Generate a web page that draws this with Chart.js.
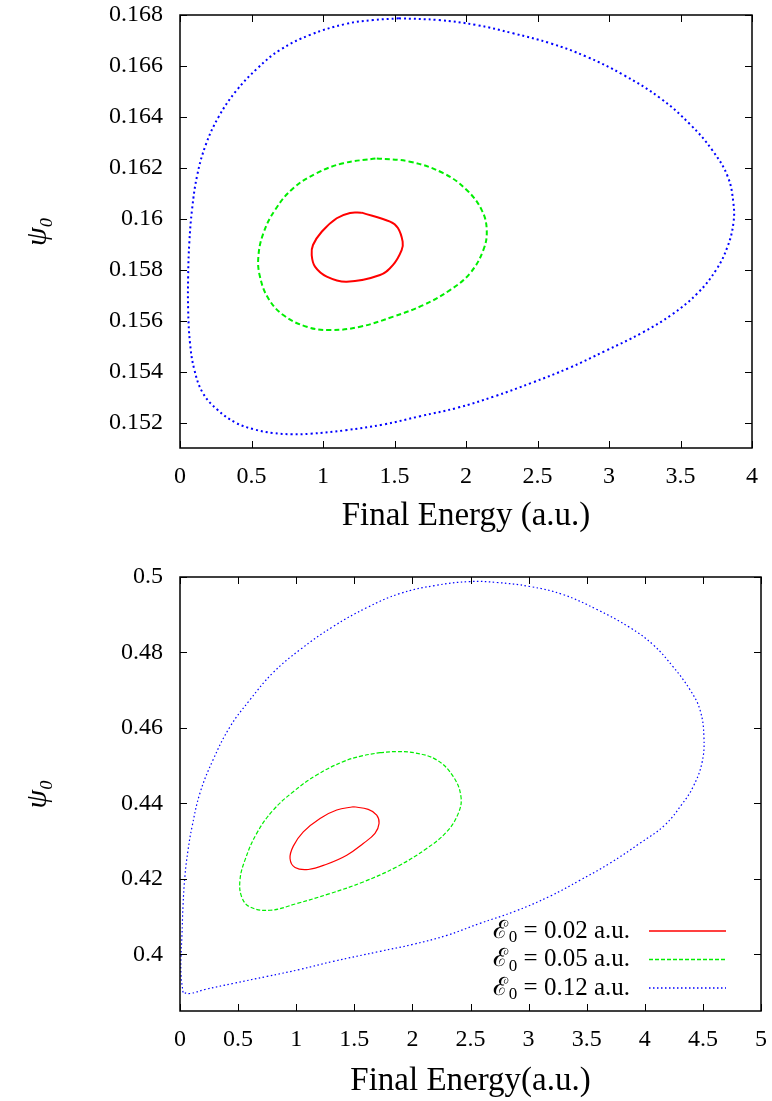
<!DOCTYPE html>
<html>
<head>
<meta charset="utf-8">
<script src="https://cdn.jsdelivr.net/npm/chart.js@4.4.1/dist/chart.umd.min.js"></script>
<style>
  body { margin: 0; background: #fff; }
  canvas { display: block; }
</style>
</head>
<body>
<canvas id="topChart" width="772" height="545"></canvas>
<canvas id="bottomChart" width="772" height="556"></canvas>
<script>
// ---- top panel: three loops ----
const topRedX = [1.271, 1.469, 1.524, 1.557, 1.550, 1.490, 1.399, 1.166, 1.026, 0.944, 0.921, 0.930, 0.991, 1.096, 1.189];
const topRedY = [0.16024, 0.15989, 0.15964, 0.15910, 0.15877, 0.15819, 0.15779, 0.15753, 0.15773, 0.15812, 0.15858, 0.15897, 0.15949, 0.16002, 0.16023];

const topGreenX = [1.376, 1.608, 1.841, 2.005, 2.110, 2.145, 2.121, 2.028, 1.888, 1.701, 1.492, 1.259, 1.049, 0.886, 0.722, 0.617, 0.559, 0.548, 0.583, 0.664,
                   0.792, 0.956, 1.142];
const topGreenY = [0.16237, 0.16224, 0.16179, 0.16113, 0.16034, 0.15956, 0.15877, 0.15786, 0.15720, 0.15661, 0.15616, 0.15576, 0.15563, 0.15576, 0.15622, 0.15688, 0.15773, 0.15851, 0.15943, 0.16034,
                   0.16120, 0.16179, 0.16218];

const topBlueX = [1.53, 1.81, 2.07, 2.33, 2.59, 2.84, 3.10, 3.36, 3.57, 3.72, 3.83, 3.87, 3.87, 3.83, 3.75, 3.62, 3.44, 3.23, 2.97, 2.72,
                  2.46, 2.20, 1.94, 1.68, 1.42, 1.16, 0.91, 0.78, 0.65, 0.52, 0.39, 0.26, 0.16, 0.10, 0.07, 0.057, 0.057, 0.065, 0.085, 0.12,
                  0.18, 0.27, 0.39, 0.54, 0.70, 0.91, 1.16, 1.35];
const topBlueY = [0.16787, 0.16780, 0.16761, 0.16728, 0.16689, 0.16637, 0.16565, 0.16473, 0.16369, 0.16271, 0.16166, 0.16061, 0.15983, 0.15892, 0.15800, 0.15708, 0.15624, 0.15552, 0.15480, 0.15414,
                  0.15356, 0.15303, 0.15258, 0.15225, 0.15192, 0.15170, 0.15156, 0.15154, 0.15159, 0.15173, 0.15199, 0.15251, 0.15316, 0.15408, 0.15512, 0.15643, 0.15774, 0.15905, 0.16040, 0.16170,
                  0.16290, 0.16400, 0.16500, 0.16590, 0.16663, 0.16722, 0.16765, 0.16780];

// ---- bottom panel ----
const botRedX = [1.491, 1.620, 1.693, 1.713, 1.678, 1.577, 1.435, 1.262, 1.104, 0.990, 0.947, 0.975, 1.061, 1.205, 1.349];
const botRedY = [0.43912, 0.43843, 0.43692, 0.43471, 0.43206, 0.42940, 0.42629, 0.42390, 0.42250, 0.42303, 0.42542, 0.42869, 0.43248, 0.43604, 0.43825];

const botGreenX = [1.721, 1.865, 2.022, 2.209, 2.352, 2.418, 2.395, 2.295, 2.123, 1.865, 1.577, 1.291, 1.004, 0.775, 0.602, 0.531, 0.516, 0.559, 0.660, 0.803,
                   0.975, 1.176, 1.405, 1.566];
const botGreenY = [0.45347, 0.45373, 0.45339, 0.45153, 0.44709, 0.44178, 0.43737, 0.43248, 0.42807, 0.42319, 0.41920, 0.41612, 0.41347, 0.41169, 0.41256, 0.41522, 0.41965, 0.42497, 0.43206, 0.43825,
                   0.44311, 0.44754, 0.45108, 0.45259];

const botBlueX = [0.026, 0.009, 0.009, 0.017, 0.026, 0.043, 0.069, 0.103, 0.172, 0.284, 0.430, 0.602, 0.800, 1.033, 1.317, 1.609, 1.893, 2.194, 2.496, 2.728,
                  3.012, 3.296, 3.589, 3.873, 4.071, 4.243, 4.389, 4.475, 4.509, 4.492, 4.415, 4.320, 4.170, 3.959, 3.701, 3.442, 3.184, 2.883, 2.582, 2.298,
                  2.005, 1.721, 1.317, 1.033, 0.749, 0.456, 0.215, 0.086];
const botBlueY = [0.3899, 0.39442, 0.39973, 0.40505, 0.41301, 0.42098, 0.42762, 0.43373, 0.44276, 0.45153, 0.46029, 0.46746, 0.47463, 0.48074, 0.48685, 0.49190, 0.49562, 0.49774, 0.49880, 0.49854,
                  0.49748, 0.49535, 0.49137, 0.48659, 0.48207, 0.47623, 0.47012, 0.46481, 0.45764, 0.45073, 0.44436, 0.43980, 0.43420, 0.42948, 0.42417, 0.41965, 0.41541, 0.41142, 0.40823, 0.40505,
                  0.40266, 0.40080, 0.39814, 0.39602, 0.39416, 0.39230, 0.39070, 0.38964];

// tick values
const topXTicks = [0, 0.5, 1, 1.5, 2, 2.5, 3, 3.5, 4];
const topYTicks = [0.152, 0.154, 0.156, 0.158, 0.16, 0.162, 0.164, 0.166, 0.168];
const botXTicks = [0, 0.5, 1, 1.5, 2, 2.5, 3, 3.5, 4, 4.5, 5];
const botYTicks = [0.4, 0.42, 0.44, 0.46, 0.48, 0.5];

const fieldLabels = ['0.02', '0.05', '0.12'];
const lineColors = ['#ff0000', '#00ee00', '#0000ff'];

const serif = "'Liberation Serif', 'DejaVu Serif', serif";

// join x and y lists into points, repeat the first one so the loop is closed
function loop(xs, ys) {
  const pts = xs.map((x, i) => ({ x: x, y: ys[i] }));
  pts.push(pts[0]);
  return pts;
}

// gnuplot style box with inward ticks on all four sides
const frame = {
  id: 'frame',
  afterDatasetsDraw(chart) {
    const { ctx, chartArea: a, scales: { x, y } } = chart;
    const tl = 7;
    ctx.save();
    ctx.strokeStyle = '#000';
    ctx.lineWidth = 1;
    ctx.setLineDash([]);
    ctx.beginPath();
    x.ticks.forEach(t => {
      const px = Math.round(x.getPixelForValue(t.value)) + 0.5;
      ctx.moveTo(px, a.bottom); ctx.lineTo(px, a.bottom - tl);
      ctx.moveTo(px, a.top); ctx.lineTo(px, a.top + tl);
    });
    y.ticks.forEach(t => {
      const py = Math.round(y.getPixelForValue(t.value)) + 0.5;
      ctx.moveTo(a.left, py); ctx.lineTo(a.left + tl, py);
      ctx.moveTo(a.right, py); ctx.lineTo(a.right - tl, py);
    });
    ctx.stroke();
    ctx.lineWidth = 1.5;
    ctx.strokeRect(a.left, a.top, a.right - a.left, a.bottom - a.top);
    ctx.restore();
  }
};

// key drawn inside the lower right corner of the bottom panel
const keyBox = {
  id: 'keyBox',
  afterDraw(chart) {
    const { ctx, chartArea: a } = chart;
    ctx.save();
    ctx.textBaseline = 'middle';
    fieldLabels.forEach((f, i) => {
      const ds = chart.data.datasets[i];
      const yy = a.bottom - 80 + i * 28.5;
      const big = '25px ' + serif;
      const small = '17px ' + serif;
      const rest = ' = ' + f + ' a.u.';
      ctx.font = big;
      const wE = ctx.measureText('ℰ').width;
      const wR = ctx.measureText(rest).width;
      ctx.font = small;
      const w0 = ctx.measureText('0').width;
      let xx = a.right - 131 - (wE + w0 + 1 + wR);
      ctx.fillStyle = '#000';
      ctx.font = big;
      ctx.fillText('ℰ', xx, yy);
      xx += wE + 1;
      ctx.font = small;
      ctx.fillText('0', xx, yy + 7);
      xx += w0;
      ctx.font = big;
      ctx.fillText(rest, xx, yy);
      ctx.beginPath();
      ctx.strokeStyle = lineColors[i];
      ctx.lineWidth = 1.5;
      ctx.setLineDash(ds.borderDash || []);
      ctx.moveTo(a.right - 112, yy);
      ctx.lineTo(a.right - 35, yy);
      ctx.stroke();
    });
    ctx.restore();
  }
};

function makeOptions(cfg) {
  return {
    responsive: false,
    animation: false,
    devicePixelRatio: 1,
    layout: { padding: cfg.pad },
    plugins: { legend: { display: false }, tooltip: { enabled: false } },
    scales: {
      x: {
        type: 'linear',
        min: cfg.xMin, max: cfg.xMax,
        afterBuildTicks: s => { s.ticks = cfg.xTicks.map(v => ({ value: v })); },
        // fixed box, no extra room for edge labels (layout padding handles it)
        afterFit: s => { s.height = cfg.xHeight; s.paddingLeft = 0; s.paddingRight = 0; },
        grid: { display: false, drawTicks: false },
        border: { display: false },
        ticks: { color: '#000', padding: 14, font: { family: serif, size: 24 }, callback: v => String(v) },
        title: { display: true, text: cfg.xTitle, color: '#000', font: { family: serif, size: 33 }, padding: { bottom: cfg.xTitlePad } }
      },
      y: {
        type: 'linear',
        min: cfg.yMin, max: cfg.yMax,
        afterBuildTicks: s => { s.ticks = cfg.yTicks.map(v => ({ value: v })); },
        afterFit: s => { s.width = 180; s.paddingTop = 0; s.paddingBottom = 0; },
        grid: { display: false, drawTicks: false },
        border: { display: false },
        ticks: { color: '#000', padding: 17, font: { family: serif, size: 24 }, callback: v => String(v) },
        title: { display: true, text: 'ψ₀', color: '#000', font: { family: serif, size: 30, style: 'italic' }, padding: { top: 20 } }
      }
    }
  };
}

function curve(pts, color, width, dash) {
  return { data: pts, borderColor: color, borderWidth: width, borderDash: dash, fill: false, pointRadius: 0, tension: 0.4 };
}

new Chart(document.getElementById('topChart'), {
  type: 'line',
  data: {
    datasets: [
      curve(loop(topRedX, topRedY), lineColors[0], 2, []),
      curve(loop(topGreenX, topGreenY), lineColors[1], 2, [5, 3]),
      curve(loop(topBlueX, topBlueY), lineColors[2], 2, [2, 3])
    ]
  },
  options: makeOptions({
    xMin: 0, xMax: 4, yMin: 0.151, yMax: 0.168,
    xTicks: topXTicks, yTicks: topYTicks,
    pad: { top: 15, right: 20, left: 0, bottom: 0 },
    xHeight: 97, xTitlePad: 9,
    xTitle: 'Final Energy (a.u.)'
  }),
  plugins: [frame]
});

new Chart(document.getElementById('bottomChart'), {
  type: 'line',
  data: {
    datasets: [
      curve(loop(botRedX, botRedY), lineColors[0], 1.2, []),
      curve(loop(botGreenX, botGreenY), lineColors[1], 1.2, [4, 2]),
      curve(loop(botBlueX, botBlueY), lineColors[2], 1.2, [1.5, 2.5])
    ]
  },
  options: makeOptions({
    xMin: 0, xMax: 5, yMin: 0.385, yMax: 0.5,
    xTicks: botXTicks, yTicks: botYTicks,
    pad: { top: 32, right: 11, left: 0, bottom: 0 },
    xHeight: 90, xTitlePad: 0,
    xTitle: 'Final Energy(a.u.)'
  }),
  plugins: [frame, keyBox]
});
</script>
</body>
</html>
